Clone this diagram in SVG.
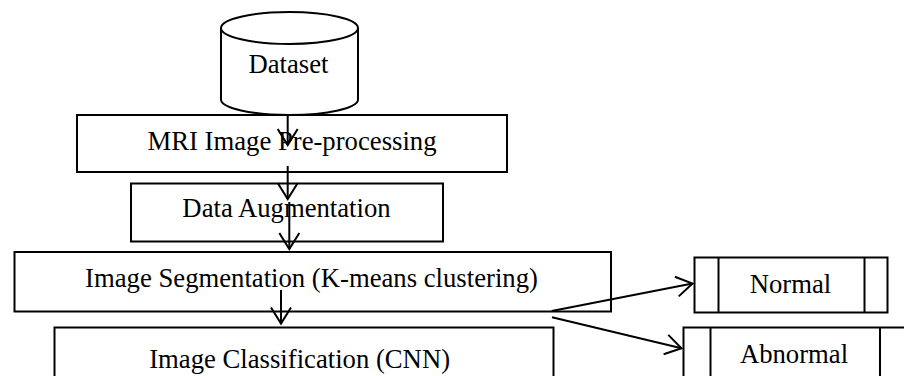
<svg xmlns="http://www.w3.org/2000/svg" width="904" height="376" viewBox="0 0 904 376">
  <style>
    .box { fill: #ffffff; stroke: #000000; stroke-width: 2; }
    .ln { fill: none; stroke: #000000; stroke-width: 2; }
    .t { font-family: "Liberation Serif", "Times New Roman", serif; font-size: 26.7px; fill: #000000; text-anchor: middle; }
    .c { fill: none; stroke: #000000; stroke-width: 2; marker-end: url(#ah); }
  </style>
  <defs>
    <marker id="ah" markerUnits="userSpaceOnUse" markerWidth="30" markerHeight="30" refX="0" refY="0" viewBox="-20 -15 25 30" orient="auto" overflow="visible">
      <path d="M-16,-10 L0,0 L-16,10" fill="none" stroke="#000000" stroke-width="2" stroke-linejoin="miter"/>
    </marker>
  </defs>
  <rect width="904" height="376" fill="#ffffff"/>

  <g id="dataset">
    <path class="box" d="M221,28 L221,99.5 A68.5,15.5 0 0 0 358,99.5 L358,28"/>
    <ellipse class="box" cx="289.5" cy="28" rx="68.5" ry="16"/>
    <text class="t" x="288.5" y="72.5">Dataset</text>
  </g>

  <g id="preprocessing">
    <rect class="box" x="77" y="115" width="430" height="57"/>
    <text class="t" x="292" y="150">MRI Image Pre-processing</text>
  </g>

  <g id="augmentation">
    <rect class="box" x="131" y="183.5" width="312" height="58"/>
    <text class="t" x="286.5" y="216.5">Data Augmentation</text>
  </g>

  <g id="segmentation">
    <rect class="box" x="14.5" y="252" width="596.5" height="59.5"/>
    <text class="t" x="311.5" y="287.3">Image Segmentation (K-means clustering)</text>
  </g>

  <g id="classification">
    <rect class="box" x="54.5" y="327.5" width="499" height="60"/>
    <text class="t" x="299.6" y="367.5">Image Classification (CNN)</text>
  </g>

  <g id="normal">
    <rect class="box" x="694.5" y="257.5" width="193" height="55"/>
    <line class="ln" x1="718.5" y1="257.5" x2="718.5" y2="312.5"/>
    <line class="ln" x1="864.5" y1="257.5" x2="864.5" y2="312.5"/>
    <text class="t" x="790.5" y="293.3">Normal</text>
  </g>

  <g id="abnormal">
    <rect class="box" x="683.5" y="327.5" width="230" height="60"/>
    <line class="ln" x1="710.5" y1="327.5" x2="710.5" y2="387.5"/>
    <line class="ln" x1="880" y1="327.5" x2="880" y2="387.5"/>
    <text class="t" x="794" y="363.3">Abnormal</text>
  </g>

  <g id="connectors">
    <line class="c" x1="287.7" y1="115" x2="287.7" y2="145"/>
    <line class="c" x1="287.7" y1="166" x2="287.7" y2="199"/>
    <line class="c" x1="289.3" y1="202" x2="289.3" y2="249"/>
    <line class="c" x1="281" y1="290" x2="281" y2="323.5"/>
    <line class="c" x1="551.7" y1="311" x2="692.5" y2="283.5"/>
    <line class="c" x1="552" y1="317.3" x2="681.5" y2="348.3"/>
  </g>
</svg>
